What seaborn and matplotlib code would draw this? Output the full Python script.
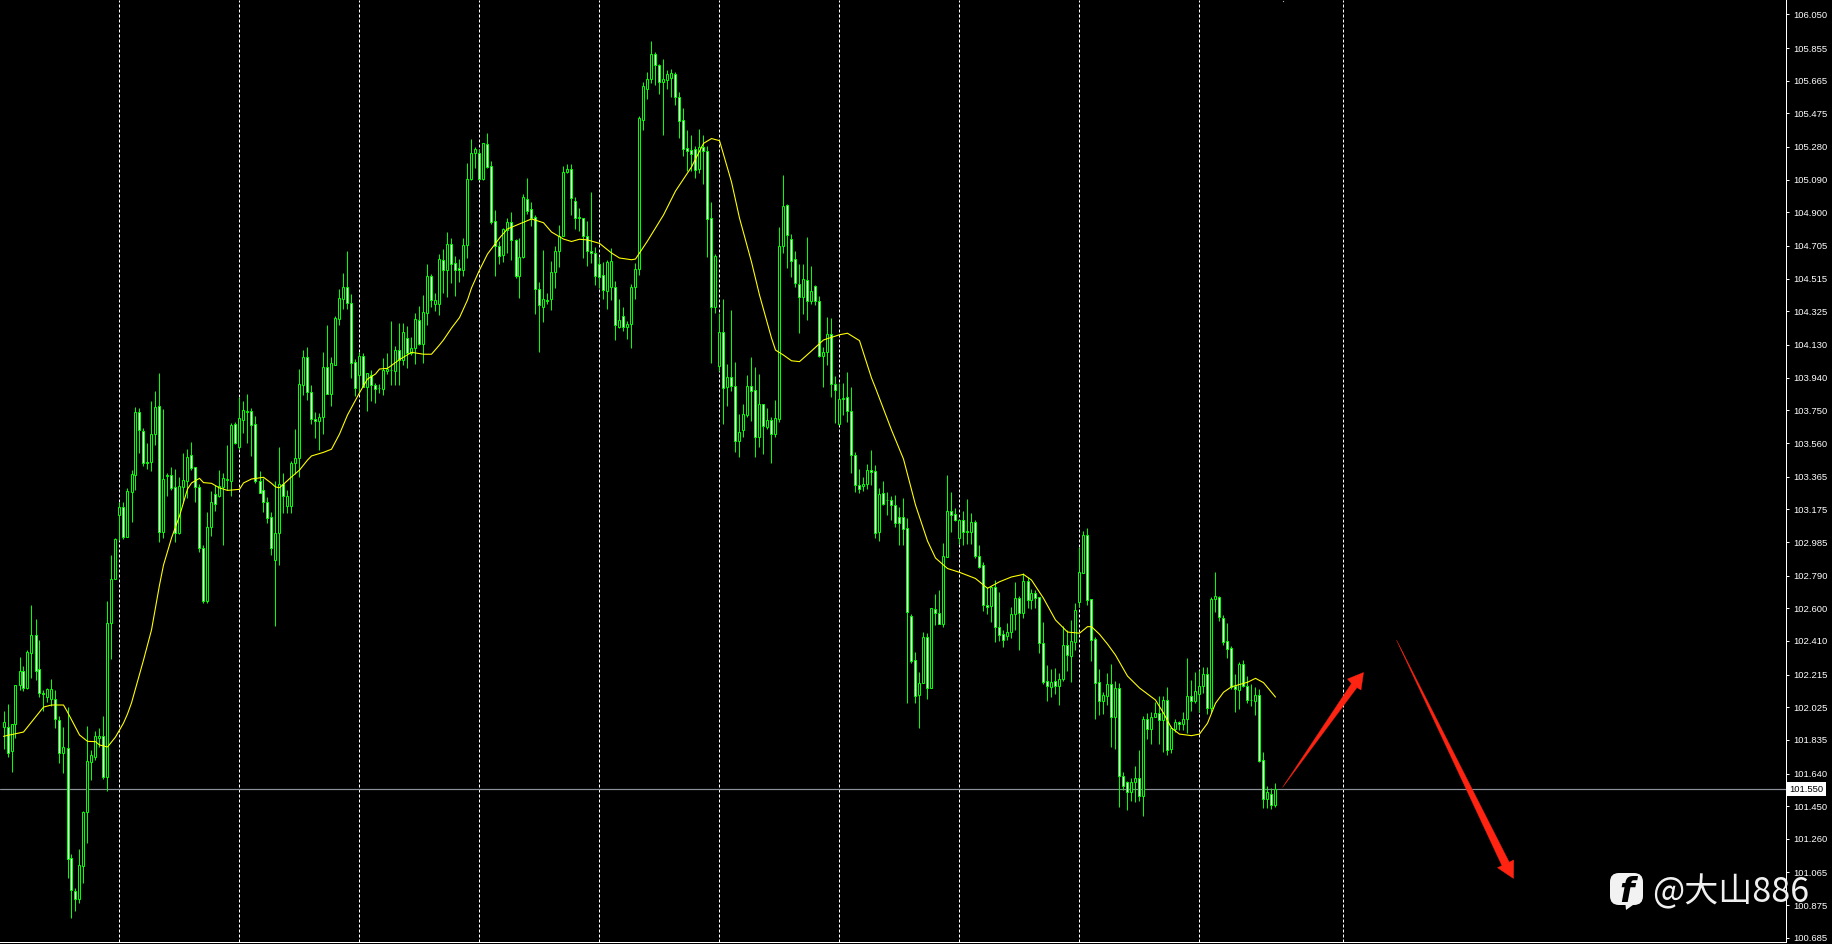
import matplotlib
matplotlib.use("Agg")
import matplotlib.pyplot as plt
from matplotlib.patches import Polygon, FancyBboxPatch
import numpy as np
import seaborn as sns

highs = [
    102.005,102.044,101.928,102.154,102.315,102.265,102.357,102.619,102.536,102.416,
    102.125,102.137,102.187,102.125,101.974,101.912,102.025,101.172,100.973,101.200,
    101.422,101.916,101.776,101.887,101.904,101.974,102.642,102.909,103.007,103.219,
    103.217,103.299,103.403,103.769,103.764,103.646,103.558,103.802,103.861,103.965,
    103.756,103.384,103.419,103.409,103.361,103.500,103.525,103.566,103.423,103.322,
    102.968,103.158,103.281,103.316,103.403,103.384,103.549,103.675,103.684,103.829,
    103.804,103.845,103.765,103.717,103.397,103.355,103.245,103.161,103.341,103.539,
    103.384,103.287,103.457,103.642,103.988,104.100,104.120,103.897,103.739,103.736,
    104.087,104.246,104.058,104.298,104.453,104.546,104.676,104.426,104.048,104.091,
    104.085,103.967,103.984,103.911,103.903,104.052,104.081,104.269,104.124,104.259,
    104.256,104.240,104.178,104.317,104.356,104.420,104.600,104.542,104.433,104.657,
    104.686,104.788,104.749,104.647,104.627,104.749,105.185,105.326,105.278,105.267,
    105.305,105.360,105.199,104.914,104.736,104.808,104.869,104.901,104.744,104.749,
    105.007,105.098,104.959,104.885,104.494,104.681,104.432,104.618,104.705,104.825,
    105.170,105.181,105.181,104.988,104.924,104.867,104.850,105.017,104.697,104.639,
    104.610,104.623,104.691,104.503,104.397,104.349,104.269,104.484,104.604,105.460,
    105.658,105.716,105.896,105.832,105.762,105.789,105.727,105.731,105.716,105.599,
    105.507,105.379,105.350,105.286,105.385,105.350,105.286,104.960,104.658,104.314,
    104.397,104.019,104.333,104.029,103.729,103.787,103.954,104.058,104.000,103.959,
    103.787,103.762,103.713,103.810,104.817,105.117,104.949,104.773,104.676,104.600,
    104.600,104.759,104.589,104.478,104.414,104.120,104.294,104.285,103.949,103.907,
    103.907,103.973,103.884,103.506,103.409,103.364,103.438,103.519,103.432,103.300,
    103.339,103.277,103.254,103.258,103.187,103.239,103.123,102.567,102.346,102.230,
    102.460,102.455,102.603,102.681,102.706,102.977,103.374,103.275,103.184,103.117,
    103.165,103.235,103.155,103.113,102.968,102.871,102.724,102.729,102.764,102.694,
    102.474,102.513,102.607,102.753,102.671,102.803,102.783,102.712,102.706,102.667,
    102.520,102.270,102.247,102.251,102.222,102.497,102.474,102.532,102.629,102.954,
    103.049,103.065,102.654,102.435,102.247,102.112,102.222,102.274,102.177,102.164,
    101.650,101.596,101.616,101.684,101.776,101.976,101.990,101.996,102.057,102.090,
    102.090,102.141,101.918,101.955,101.945,101.999,102.309,102.183,102.231,102.241,
    102.261,102.261,102.664,102.812,102.671,102.559,102.513,102.381,102.218,102.289,
    102.299,102.206,102.160,102.144,102.129,101.763,101.569,101.554,101.583,
]
lows = [
    101.782,101.738,101.650,101.846,102.125,102.121,102.129,102.197,102.183,102.086,
    102.005,102.057,102.032,101.903,101.703,101.641,101.031,100.799,100.843,100.889,
    101.002,101.238,101.602,101.718,101.796,101.606,101.540,102.307,102.768,102.997,
    103.004,103.012,103.103,103.287,103.504,103.427,103.409,103.399,103.549,102.987,
    103.010,103.254,103.287,102.987,103.031,103.210,103.241,103.403,103.217,102.929,
    102.631,102.631,103.020,103.167,103.248,102.968,103.287,103.252,103.554,103.527,
    103.617,103.562,103.485,103.326,103.270,103.161,103.094,102.909,102.499,102.851,
    103.152,103.152,103.152,103.380,103.364,103.839,103.810,103.671,103.591,103.519,
    103.612,103.845,103.777,104.012,104.246,104.337,104.339,103.938,103.833,103.851,
    103.884,103.748,103.804,103.794,103.849,103.839,103.961,103.897,103.897,103.897,
    104.013,103.994,104.071,104.019,104.130,104.027,104.246,104.352,104.329,104.304,
    104.430,104.410,104.488,104.416,104.496,104.532,104.633,105.088,105.156,105.088,
    105.088,105.156,104.833,104.530,104.600,104.614,104.664,104.623,104.517,104.403,
    104.633,104.889,104.821,104.310,104.091,104.265,104.368,104.333,104.459,104.584,
    104.763,105.127,104.885,104.804,104.794,104.633,104.589,104.604,104.478,104.461,
    104.395,104.340,104.391,104.159,104.227,104.213,104.166,104.114,104.399,104.536,
    105.379,105.559,105.650,105.640,105.588,105.350,105.617,105.569,105.524,105.330,
    105.228,105.140,105.140,105.102,105.131,105.065,104.643,104.027,104.317,103.980,
    103.671,103.777,103.864,103.510,103.481,103.597,103.709,103.690,103.481,103.539,
    103.496,103.642,103.442,103.597,103.684,104.662,104.579,104.526,104.468,104.198,
    104.310,104.275,104.366,104.362,104.062,103.887,104.013,103.829,103.678,103.665,
    103.723,103.684,103.388,103.277,103.271,103.283,103.293,103.316,103.010,102.993,
    103.198,103.142,103.113,103.074,102.968,102.968,102.048,102.280,102.051,101.906,
    102.164,102.073,102.135,102.503,102.507,102.493,102.896,103.043,103.109,102.973,
    102.968,102.973,102.973,102.890,102.836,102.586,102.567,102.520,102.406,102.412,
    102.377,102.416,102.429,102.474,102.357,102.542,102.602,102.596,102.600,102.342,
    102.158,102.063,102.086,102.102,102.038,102.179,102.235,102.173,102.357,102.609,
    102.807,102.619,102.295,101.957,101.980,101.986,102.038,101.796,101.784,101.447,
    101.544,101.428,101.480,101.476,101.480,101.393,101.842,101.811,101.968,101.811,
    101.767,101.747,101.761,101.879,101.893,101.893,101.877,102.005,102.048,101.999,
    102.106,101.986,101.990,102.580,102.528,102.387,102.313,102.131,101.999,102.015,
    102.144,102.048,102.032,101.980,101.709,101.441,101.441,101.435,101.447,
]
opens = [
    101.912,101.912,101.769,101.926,102.152,102.234,102.138,102.338,102.443,102.245,
    102.106,102.086,102.075,102.075,101.949,101.757,101.790,101.151,100.959,100.909,
    101.103,101.415,101.705,101.738,101.848,101.856,101.618,102.513,102.772,103.144,
    103.187,103.016,103.277,103.376,103.739,103.628,103.450,103.452,103.611,103.773,
    103.045,103.368,103.372,103.303,103.039,103.306,103.341,103.489,103.419,103.306,
    102.950,102.640,103.070,103.262,103.254,103.306,103.347,103.341,103.669,103.539,
    103.696,103.740,103.744,103.669,103.341,103.285,103.219,103.129,102.880,103.037,
    103.320,103.196,103.196,103.442,103.471,103.899,104.058,103.855,103.701,103.690,
    103.713,104.000,103.847,104.015,104.282,104.399,104.465,104.372,104.029,103.957,
    104.064,103.887,103.957,103.899,103.881,103.874,103.980,103.983,103.980,104.100,
    104.042,104.168,104.081,104.110,104.273,104.134,104.317,104.530,104.370,104.370,
    104.623,104.567,104.715,104.604,104.575,104.567,104.709,105.092,105.243,105.243,
    105.096,105.296,105.168,104.848,104.703,104.654,104.796,104.842,104.738,104.532,
    104.639,104.976,104.918,104.871,104.453,104.352,104.391,104.399,104.552,104.674,
    104.765,105.133,105.150,104.964,104.871,104.866,104.761,104.674,104.662,104.598,
    104.534,104.445,104.465,104.465,104.236,104.296,104.236,104.250,104.465,104.569,
    105.439,105.619,105.673,105.819,105.755,105.659,105.671,105.683,105.702,105.569,
    105.435,105.272,105.261,105.267,105.152,105.278,105.255,104.866,104.352,104.009,
    104.203,103.884,103.942,103.893,103.574,103.637,103.725,103.890,103.866,103.593,
    103.785,103.651,103.692,103.614,103.701,104.706,104.941,104.744,104.627,104.486,
    104.407,104.509,104.387,104.474,104.383,104.067,104.087,104.192,103.901,103.669,
    103.814,103.826,103.748,103.492,103.318,103.309,103.324,103.402,103.396,103.045,
    103.268,103.231,103.229,103.198,103.130,103.130,103.065,102.555,102.298,102.098,
    102.164,102.431,102.138,102.594,102.574,102.510,102.900,103.163,103.146,103.010,
    103.111,103.047,103.045,103.099,102.905,102.853,102.617,102.611,102.722,102.493,
    102.449,102.441,102.460,102.568,102.658,102.574,102.757,102.650,102.687,102.664,
    102.396,102.176,102.143,102.176,102.150,102.187,102.385,102.324,102.406,102.638,
    102.807,103.024,102.652,102.420,102.170,102.063,102.092,102.158,101.966,102.135,
    101.627,101.589,101.534,101.589,101.612,101.507,101.958,101.899,101.968,101.993,
    101.949,102.065,101.784,101.900,101.937,101.929,101.955,102.088,102.063,102.100,
    102.150,102.216,102.022,102.652,102.664,102.542,102.408,102.367,102.147,102.127,
    102.274,102.150,102.069,102.063,102.094,101.717,101.494,101.523,101.455,
]
closes = [
    101.937,101.761,101.926,102.152,102.234,102.138,102.344,102.443,102.237,102.106,
    102.102,102.129,102.129,101.955,101.757,101.792,101.141,100.963,100.909,101.107,
    101.415,101.711,101.746,101.856,101.856,101.618,102.513,102.768,103.001,103.187,
    103.016,103.280,103.378,103.739,103.634,103.446,103.446,103.611,103.768,103.045,
    103.349,103.372,103.300,103.039,103.309,103.343,103.477,103.417,103.306,102.948,
    102.642,103.070,103.216,103.204,103.309,103.355,103.351,103.665,103.562,103.704,
    103.750,103.746,103.667,103.341,103.271,103.219,103.126,102.950,103.037,103.320,
    103.254,103.251,103.442,103.471,103.901,104.058,103.858,103.701,103.690,103.713,
    104.000,103.847,104.023,104.285,104.401,104.465,104.372,104.027,103.881,104.064,
    103.887,103.965,103.899,103.874,103.878,103.983,103.988,103.986,104.100,104.042,
    104.203,104.081,104.110,104.279,104.134,104.320,104.530,104.389,104.389,104.627,
    104.567,104.715,104.598,104.567,104.567,104.709,105.092,105.243,105.267,105.096,
    105.301,105.162,104.846,104.703,104.648,104.802,104.842,104.741,104.532,104.639,
    104.988,104.908,104.867,104.453,104.360,104.395,104.387,104.552,104.674,104.765,
    105.133,105.150,104.982,104.866,104.866,104.765,104.674,104.662,104.532,104.526,
    104.451,104.610,104.616,104.244,104.273,104.236,104.250,104.465,104.569,105.447,
    105.633,105.673,105.819,105.755,105.659,105.673,105.702,105.708,105.569,105.433,
    105.270,105.258,105.241,105.148,105.278,105.255,104.863,104.352,104.647,104.203,
    103.878,103.942,103.893,103.574,103.622,103.727,103.890,103.861,103.593,103.785,
    103.661,103.692,103.614,103.704,104.703,104.939,104.767,104.619,104.488,104.407,
    104.515,104.383,104.442,104.383,104.064,104.087,104.192,103.901,103.870,103.814,
    103.823,103.748,103.492,103.318,103.291,103.320,103.402,103.393,103.039,103.262,
    103.208,103.227,103.198,103.097,103.097,103.059,102.577,102.295,102.092,102.164,
    102.431,102.138,102.600,102.574,102.510,102.902,103.163,103.144,103.115,103.111,
    103.045,103.043,103.099,102.905,102.841,102.621,102.609,102.724,102.493,102.446,
    102.417,102.460,102.568,102.658,102.574,102.758,102.650,102.687,102.661,102.396,
    102.170,102.150,102.170,102.150,102.187,102.385,102.327,102.408,102.588,102.809,
    103.024,102.646,102.417,102.168,102.063,102.094,102.158,101.966,102.135,101.627,
    101.569,101.534,101.589,101.612,101.511,101.958,101.897,101.970,101.993,101.949,
    102.065,101.778,101.903,101.937,101.926,101.955,102.088,102.059,102.121,102.150,
    102.216,102.022,102.652,102.669,102.551,102.406,102.365,102.141,102.133,102.274,
    102.150,102.067,102.065,102.094,101.714,101.494,101.531,101.455,101.548,
]

# yellow moving average, read at these candle numbers
ma_idx = [
    0,5,7,10,12,15,16,19,21,23,24,26,28,30,31,32,35,37,39,40,42,44,46,47,49,50,52,54,56,59,
    60,62,65,67,68,69,72,74,76,77,80,82,84,86,89,91,93,94,96,99,102,105,107,109,110,112,114,116,117,119,121,124,126,
    129,132,135,137,140,142,144,146,149,152,154,157,158,161,165,168,172,175,177,179,182,184,187,189,192,193,195,197,199,202,
    205,209,211,214,217,218,222,225,228,231,233,236,239,243,246,249,252,255,257,260,263,266,269,271,272,274,276,278,281,284,
    288,290,292,294,297,299,301,303,305,307,311,313,315,318,
]
ma_val = [
    101.856,101.881,101.939,102.026,102.038,102.038,101.997,101.864,101.827,101.825,
    101.806,101.794,101.852,101.933,101.986,102.050,102.299,102.474,102.735,102.851,
    103.008,103.136,103.293,103.328,103.355,103.330,103.326,103.299,103.285,103.291,
    103.328,103.351,103.361,103.326,103.305,103.300,103.363,103.403,103.461,103.485,
    103.506,103.524,103.612,103.723,103.852,103.932,103.961,103.990,103.994,104.045,
    104.087,104.076,104.076,104.130,104.159,104.228,104.289,104.391,104.461,104.565,104.658,104.751,104.804,
    104.833,104.862,104.840,104.786,104.745,104.731,104.744,104.740,104.720,104.664,
    104.635,104.625,104.629,104.734,104.885,105.024,105.164,105.301,105.329,105.317,
    105.077,104.867,104.612,104.420,104.170,104.100,104.071,104.038,104.033,104.095,
    104.159,104.189,104.198,104.155,103.938,103.880,103.636,103.467,103.200,102.991,
    102.892,102.831,102.809,102.773,102.716,102.754,102.782,102.797,102.764,102.658,
    102.532,102.462,102.455,102.493,102.493,102.449,102.392,102.328,102.206,102.137,
    102.067,101.991,101.904,101.869,101.860,101.869,101.932,102.048,102.112,102.144,
    102.170,102.193,102.168,102.084,
]

tick_labels = [
    "106.050","105.855","105.665","105.475","105.280","105.090","104.900","104.705",
    "104.515","104.325","104.130","103.940","103.750","103.560","103.365","103.175",
    "102.985","102.790","102.600","102.410","102.215","102.025","101.835","101.640",
    "101.450","101.260","101.065","100.875","100.685",
]
last_price = 101.550
period_marks = [29, 59, 89, 119, 149, 179, 209, 239, 269, 299, 335]

GREEN = "#00ff00"
W, H = 1833, 944
PX = 72 / 100  # one pixel in points

sns.set_theme(style="dark", rc={"axes.facecolor": "black", "figure.facecolor": "black"})
plt.rcParams["font.family"] = ["Liberation Sans", "DejaVu Sans"]

fig = plt.figure(figsize=(W / 100, H / 100), dpi=100)
ax = fig.add_axes([0, (H - 941.5) / H, 1786.5 / W, 941.5 / H])

idx = np.arange(len(opens))
o = np.array(opens)
c = np.array(closes)
fills = ["black" if b > a else "white" for a, b in zip(opens, closes)]

for m in period_marks:
    ax.axvline(m, color="white", lw=PX, ls=(0, (3, 2)), zorder=1)
ax.axhline(last_price, color="#8b909a", lw=1.2 * PX, zorder=1)

ax.vlines(idx, lows, highs, color=GREEN, lw=PX, zorder=2)
ax.bar(idx, np.abs(c - o), bottom=np.minimum(o, c), width=0.5, color=fills,
       edgecolor=GREEN, linewidth=PX, zorder=3)
sns.lineplot(x=ma_idx, y=ma_val, color="#ffff00", lw=1.1 * PX, ax=ax, zorder=4)

ax.set_xlim(-0.875, 445.75)
ax.set_ylim(100.664, 106.134)
ax.set_xticks([])
ax.set_xlabel("")
ax.yaxis.tick_right()
ax.set_yticks([float(t) for t in tick_labels])
ax.set_yticklabels(tick_labels)
ax.tick_params(axis="y", colors="white", length=3 * PX, width=PX, pad=2.5, labelsize=6.8, right=True)
ax.grid(False)
for side in ["left", "top"]:
    ax.spines[side].set_visible(False)
for side in ["right", "bottom"]:
    ax.spines[side].set_color("white")
    ax.spines[side].set_linewidth(PX)

ax.text(1.0 + 2.8 / 1786.5, last_price, f"{last_price:.3f}", transform=ax.get_yaxis_transform(),
        color="black", fontsize=6.8, va="center", ha="left", clip_on=False, zorder=6,
        bbox=dict(boxstyle="square,pad=0.25", fc="white", ec="none"))

# drawn-on marks, in image pixels
over = fig.add_axes([0, 0, 1, 1], zorder=10)
over.set_xlim(0, W)
over.set_ylim(H, 0)
over.axis("off")
over.patch.set_alpha(0)

red = "#ff2412"
over.add_patch(Polygon([(1282.5, 787.5), (1357, 687.5), (1361, 690), (1363.5, 672.5),
                        (1347.5, 679), (1351.5, 683.5)], closed=True, fc=red, ec=red, lw=0.3))
over.add_patch(Polygon([(1396.5, 640), (1509.2, 862.2), (1513.7, 860), (1513.5, 878.5),
                        (1497.5, 867.7), (1502, 865.7)], closed=True, fc=red, ec=red, lw=0.3))
over.plot([1283.5], [0.5], "s", ms=0.8, color="#b0b0b0", mew=0)

over.add_patch(FancyBboxPatch((1617, 880), 19, 18, boxstyle="round,pad=7,rounding_size=9",
                              fc="#f2f2f2", ec="none"))
over.add_patch(Polygon([(1625, 900), (1640, 900), (1626, 910)], closed=True, fc="#f2f2f2", ec="none"))
over.text(1627, 892, "f", color="black", fontsize=24, fontweight="bold", style="italic",
          ha="center", va="center", family=["DejaVu Sans"])
over.text(1652, 902, "@大山886", color="#f0f0f0", fontsize=24.5, ha="left", va="baseline",
          family=["Noto Sans CJK SC", "DejaVu Sans"])

fig.savefig("out.png", dpi=100, facecolor="black")
